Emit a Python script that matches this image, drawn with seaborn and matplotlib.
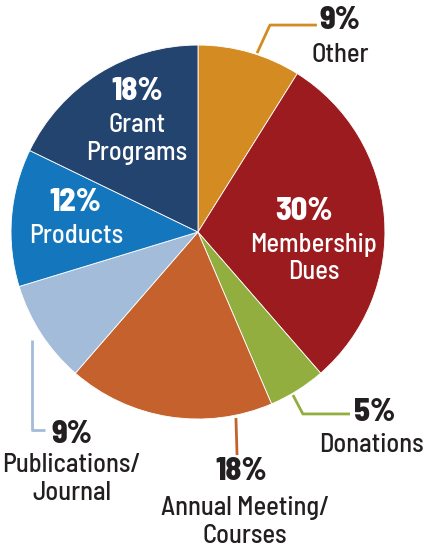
import matplotlib
matplotlib.use("Agg")
import matplotlib.pyplot as plt
import seaborn as sns

# slices clockwise from 12 o'clock
labels = ["Other", "Membership\nDues", "Donations", "Annual Meeting/\nCourses",
          "Publications/\nJournal", "Products", "Grant\nPrograms"]
values = [9, 30, 5, 18, 9, 12, 18]
colors = ["#D38B22", "#9B1B1E", "#92AE3E", "#C5612C", "#A3BCD9", "#1477BE", "#23446F"]

sns.set_theme(style="white")
plt.rcParams["font.family"] = ["Barlow Semi Condensed", "DejaVu Sans"]

fig = plt.figure(figsize=(4.27, 5.48), dpi=100)
ax = fig.add_axes([0, 0, 1, 1])
ax.pie(values, colors=colors, startangle=90, counterclock=False, radius=1,
       wedgeprops=dict(linewidth=0.6, edgecolor="white"))
ax.set_xlim(-1.059, 1.225)
ax.set_ylim(-1.690, 1.241)
ax.set_aspect("auto")
ax.axis("off")

pct_size = 23
lab_size = 19
dark = "#231F20"

# inside labels: (slice index, pct pos, label pos)
inside = [
    (1, (0.567, 0.112), (0.620, -0.142)),
    (6, (-0.326, 0.749), (-0.326, 0.497)),
    (5, (-0.658, 0.160), (-0.652, -0.021)),
]
for i, p, l in inside:
    ax.text(*p, f"{values[i]}%", color="white", fontsize=pct_size, fontweight=800,
            ha="center", va="center")
    ax.text(*l, labels[i], color="white", fontsize=lab_size, fontweight="medium",
            ha="center", va="center", linespacing=1.2)

# outside labels with leader lines: (slice index, line pts, pct pos, label pos)
outside = [
    (0, [(0.316, 0.957), (0.385, 1.107), (0.636, 1.107)], (0.759, 1.134), (0.759, 0.947)),
    (2, [(0.508, -0.872), (0.561, -0.973), (0.813, -0.973)], (0.947, -0.963), (0.930, -1.139)),
    (3, [(0.203, -0.995), (0.209, -1.193)], (0.230, -1.283), (0.251, -1.550)),
    (4, [(-0.888, -0.578), (-0.888, -1.059), (-0.818, -1.059)], (-0.674, -1.085), (-0.674, -1.321)),
]
for i, pts, p, l in outside:
    xs, ys = zip(*pts)
    ax.plot(xs, ys, color=colors[i], lw=2, solid_capstyle="butt")
    ax.text(*p, f"{values[i]}%", color=dark, fontsize=pct_size, fontweight=800,
            ha="center", va="center")
    ax.text(*l, labels[i], color=dark, fontsize=lab_size, fontweight="medium",
            ha="center", va="center", linespacing=1.2)

fig.savefig("out.png", dpi=100, facecolor="white")
